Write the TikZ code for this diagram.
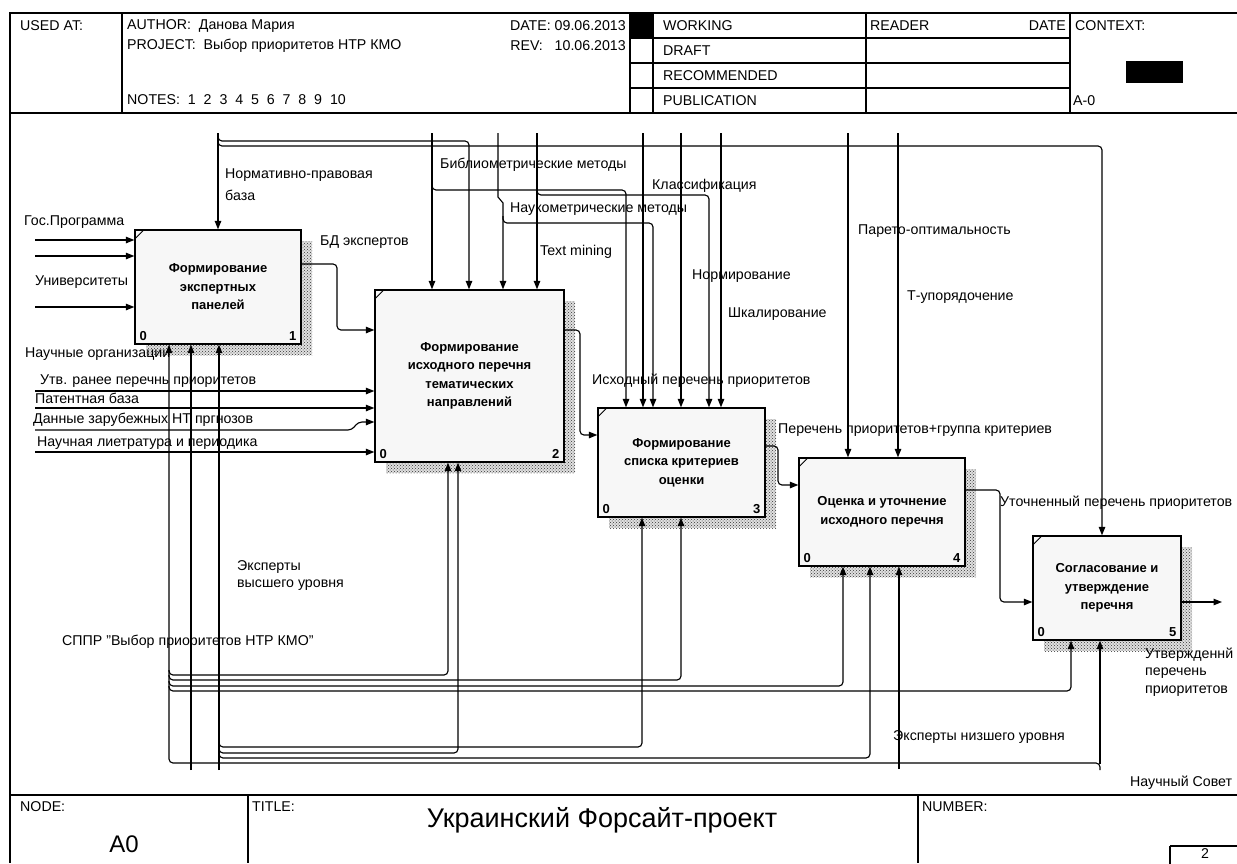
\documentclass[tikz,border=0pt]{standalone}
\usepackage{fontspec}
\setmainfont{Liberation Sans}
\usetikzlibrary{arrows.meta,patterns,shadows,calc}
\definecolor{boxfill}{HTML}{F7F7F7}
\newcommand\lblf{\fontsize{14.2}{19}\selectfont}
\newcommand\boxf{\bfseries\fontsize{13}{18.5}\selectfont}
\begin{document}
\begin{tikzpicture}[x=1pt,y=-1pt,
  ln/.style={line width=1.1pt},
  arr/.style={line width=1.15pt,-{Triangle[length=8.5pt,width=6.5pt]}},
  rc/.style={rounded corners=4pt},
  frame/.style={line width=1.4pt},
  box/.style={draw,line width=1.3pt,fill=boxfill,align=center,font=\boxf,inner sep=0pt,
    general shadow={fill=black!12,shadow xshift=11pt,shadow yshift=-11pt},
    general shadow={pattern=crosshatch dots,pattern color=black!80,shadow xshift=11pt,shadow yshift=-11pt}},
  lbl/.style={anchor=west,inner sep=0pt,font=\lblf},
  num/.style={inner sep=0pt,font=\bfseries\fontsize{13}{13}\selectfont}]
\useasboundingbox (0,0) rectangle (1237,863);
% ---------- frame / header ----------
\draw[line width=2.6pt] (10,12) -- (10,863);
\draw[frame] (10,13) -- (1237,13);
\draw[frame] (10,113) -- (1237,113);
\foreach \xx in {122,630,653,866,1070} \draw[ln] (\xx,13) -- (\xx,113);
\foreach \yy in {38,63,88} \draw[ln] (630,\yy) -- (1070,\yy);
\fill (630,13) rectangle (653,38);
\fill (1126,61) rectangle (1183,83);
\node[lbl] (h1) at (20,26) {USED AT:};
\node[lbl] (h2) at (127,26) {AUTHOR:\ \ Данова Мария};
\node[lbl] (h3) at (127,46) {PROJECT:\ \ Выбор приоритетов НТР КМО};
\node[lbl] (h4) at (127,100) {NOTES:\ \ 1\ \ 2\ \ 3\ \ 4\ \ 5\ \ 6\ \ 7\ \ 8\ \ 9\ \ 10};
\node[lbl,anchor=east] (h5) at (626,26) {DATE: 09.06.2013};
\node[lbl,anchor=east] (h6) at (626,46) {REV:\ \ \ 10.06.2013};
\node[lbl] (h7) at (663,26) {WORKING};
\node[lbl] (h8) at (663,51) {DRAFT};
\node[lbl] (h9) at (663,76) {RECOMMENDED};
\node[lbl] (h10) at (663,101) {PUBLICATION};
\node[lbl] (h11) at (870,26) {READER};
\node[lbl,anchor=east] (h12) at (1066,26) {DATE};
\node[lbl] (h13) at (1075,26) {CONTEXT:};
\node[lbl] (h14) at (1073,101) {A-0};
% ---------- footer ----------
\draw[frame] (10,795) -- (1237,795);
\draw[ln] (248,795) -- (248,863);
\draw[ln] (918,795) -- (918,863);
\draw[ln] (1170,846) -- (1245,846) (1170,846) -- (1170,870);
\node[lbl] (f1) at (20,807) {NODE:};
\node[inner sep=0pt,font=\fontsize{24}{24}\selectfont] (f2) at (124,844) {A0};
\node[lbl] (f3) at (252,807) {TITLE:};
\node[inner sep=0pt,font=\fontsize{27}{27}\selectfont] (f4) at (602,820) {Украинский Форсайт-проект};
\node[lbl] (f5) at (922,807) {NUMBER:};
\node[inner sep=0pt,font=\lblf] (f6) at (1205,854) {2};
% ---------- boxes ----------
\node[box,minimum width=166pt,minimum height=114pt] (b1) at (218,287) {Формирование\\экспертных\\панелей};
\node[box,minimum width=189pt,minimum height=172pt] (b2) at (469.5,376) {Формирование\\исходного перечня\\тематических\\направлений};
\node[box,minimum width=167pt,minimum height=109pt] (b3) at (681.5,462.5) {Формирование\\списка критериев\\оценки};
\node[box,minimum width=166pt,minimum height=108pt] (b4) at (882,512) {Оценка и уточнение\\исходного перечня};
\node[box,minimum width=148pt,minimum height=104pt] (b5) at (1107,588) {Согласование и\\утверждение\\перечня};
\foreach \b/\n in {b1/1,b2/2,b3/3,b4/4,b5/5}{
  \draw[line width=0.8pt] ($(\b.north west)+(0,10)$) -- ($(\b.north west)+(10,0)$);
  \node[num,anchor=south west] (z\b) at ($(\b.south west)+(5,-4)$) {0};
  \node[num,anchor=south east] (n\b) at ($(\b.south east)+(-5,-4)$) {\n};
}
% ---------- controls (top) ----------
\draw[arr] (218,133) -- (b1.north);
\draw[arr,rc] (218,136) -- (218,141) -- (469,141) -- (469,0 |- b2.north);
\draw[arr,rc] (218,139) -- (218,146) -- (1102,146) -- (1102,0 |- b5.north);
\draw[arr] (432,133) -- (432,0 |- b2.north);
\draw[arr,rc] (432,184) -- (432,190) -- (626,190) -- (626,0 |- b3.north);
\draw[arr] (498,133) -- (498,197) -- (503,203) -- (503,0 |- b2.north);
\draw[arr,rc] (503,216) -- (503,223) -- (653,223) -- (653,0 |- b3.north);
\draw[arr] (537,133) -- (537,0 |- b2.north);
\draw[arr,rc] (537,189) -- (537,195) -- (709,195) -- (709,0 |- b3.north);
\foreach \xx in {643,681,721} \draw[arr] (\xx,133) -- (\xx,0 |- b3.north);
\foreach \xx in {848,898} \draw[arr] (\xx,133) -- (\xx,0 |- b4.north);
% ---------- inputs ----------
\foreach \yy in {240,256,307} \draw[arr] (35,\yy) -- (b1.west |- 0,\yy);
\foreach \yy in {391,408,452} \draw[arr] (35,\yy) -- (b2.west |- 0,\yy);
\draw[arr,rc] (35,430) -- (352,430) -- (358,422) -- (b2.west |- 0,422);
% ---------- outputs ----------
\draw[arr,rc] (b1.east |- 0,264) -- (337,264) -- (337,330) -- (b2.west |- 0,330);
\draw[arr,rc] (b2.east |- 0,330) -- (580,330) -- (580,435) -- (b3.west |- 0,435);
\draw[arr,rc] (b3.east |- 0,446) -- (778,446) -- (778,485) -- (b4.west |- 0,485);
\draw[arr,rc] (b4.east |- 0,490) -- (1000,490) -- (1000,602) -- (b5.west |- 0,602);
\coordinate (out5) at (1222,602);
\draw[arr] (b5.east |- 0,602) -- (out5);
% ---------- mechanisms (bottom) ----------
\draw[arr] (1100,764) -- (1100,0 |- b5.south);
\draw[arr,rc] (1100,770) -- (1100,763) -- (169,763) -- (169,0 |- b1.south);
\draw[arr,rc] (169,670) -- (169,675) -- (448,675) -- (448,0 |- b2.south);
\draw[arr,rc] (169,675) -- (169,680) -- (681,680) -- (681,0 |- b3.south);
\draw[arr,rc] (169,681) -- (169,686) -- (843,686) -- (843,0 |- b4.south);
\draw[arr,rc] (169,686) -- (169,691) -- (1071,691) -- (1071,0 |- b5.south);
\draw[arr] (191,770) -- (191,0 |- b1.south);
\draw[arr] (219,770) -- (219,0 |- b1.south);
\draw[arr,rc] (219,742) -- (219,747) -- (642,747) -- (642,0 |- b3.south);
\draw[arr,rc] (219,748) -- (219,753) -- (458,753) -- (458,0 |- b2.south);
\draw[arr,rc] (219,753) -- (219,758) -- (870,758) -- (870,0 |- b4.south);
\draw[arr] (899,769) -- (899,0 |- b4.south);
% ---------- labels ----------
\node[lbl] (l1) at (24,222) {Гос.Программа};
\node[lbl] (l2) at (35,282) {Университеты};
\node[lbl] (l3) at (25,354) {Научные организации};
\node[lbl] (l4) at (225,175) {Нормативно-правовая};
\node[lbl] (l5) at (225,195) {база};
\node[lbl] (l6) at (320,242) {БД экспертов};
\node[lbl] (l7) at (440,165) {Библиометрические методы};
\node[lbl] (l8) at (652,186) {Классификация};
\node[lbl] (l9) at (510,209) {Наукометрические методы};
\node[lbl] (l10) at (540,252) {Text mining};
\node[lbl] (l11) at (692,276) {Нормирование};
\node[lbl] (l12) at (728,314) {Шкалирование};
\node[lbl] (l13) at (592,381) {Исходный перечень приоритетов};
\node[lbl] (l14) at (858,231) {Парето-оптимальность};
\node[lbl] (l15) at (907,297) {Т-упорядочение};
\node[lbl] (l16) at (778,430) {Перечень приоритетов+группа критериев};
\node[lbl] (l17) at (40,381) {Утв. ранее перечнь приоритетов};
\node[lbl] (l18) at (35,398) {Патентная база};
\node[lbl] (l19) at (33,420) {Данные зарубежных НТ пргнозов};
\node[lbl] (l20) at (37,443) {Научная лиетратура и периодика};
\node[lbl] (l21) at (1000,503) {Уточненный перечень приоритетов};
\node[lbl] (l22) at (1145,655) {Утвержденнй};
\node[lbl] (l23) at (1145,673) {перечень};
\node[lbl] (l24) at (1145,691) {приоритетов};
\node[lbl] (l25) at (237,567) {Эксперты};
\node[lbl] (l26) at (237,585) {высшего уровня};
\node[lbl] (l27) at (62,642) {СППР "Выбор приоритетов НТР КМО"};
\node[lbl] (l28) at (893,737) {Эксперты низшего уровня};
\node[lbl] (l29) at (1130,783) {Научный Совет};
\end{tikzpicture}
\end{document}
